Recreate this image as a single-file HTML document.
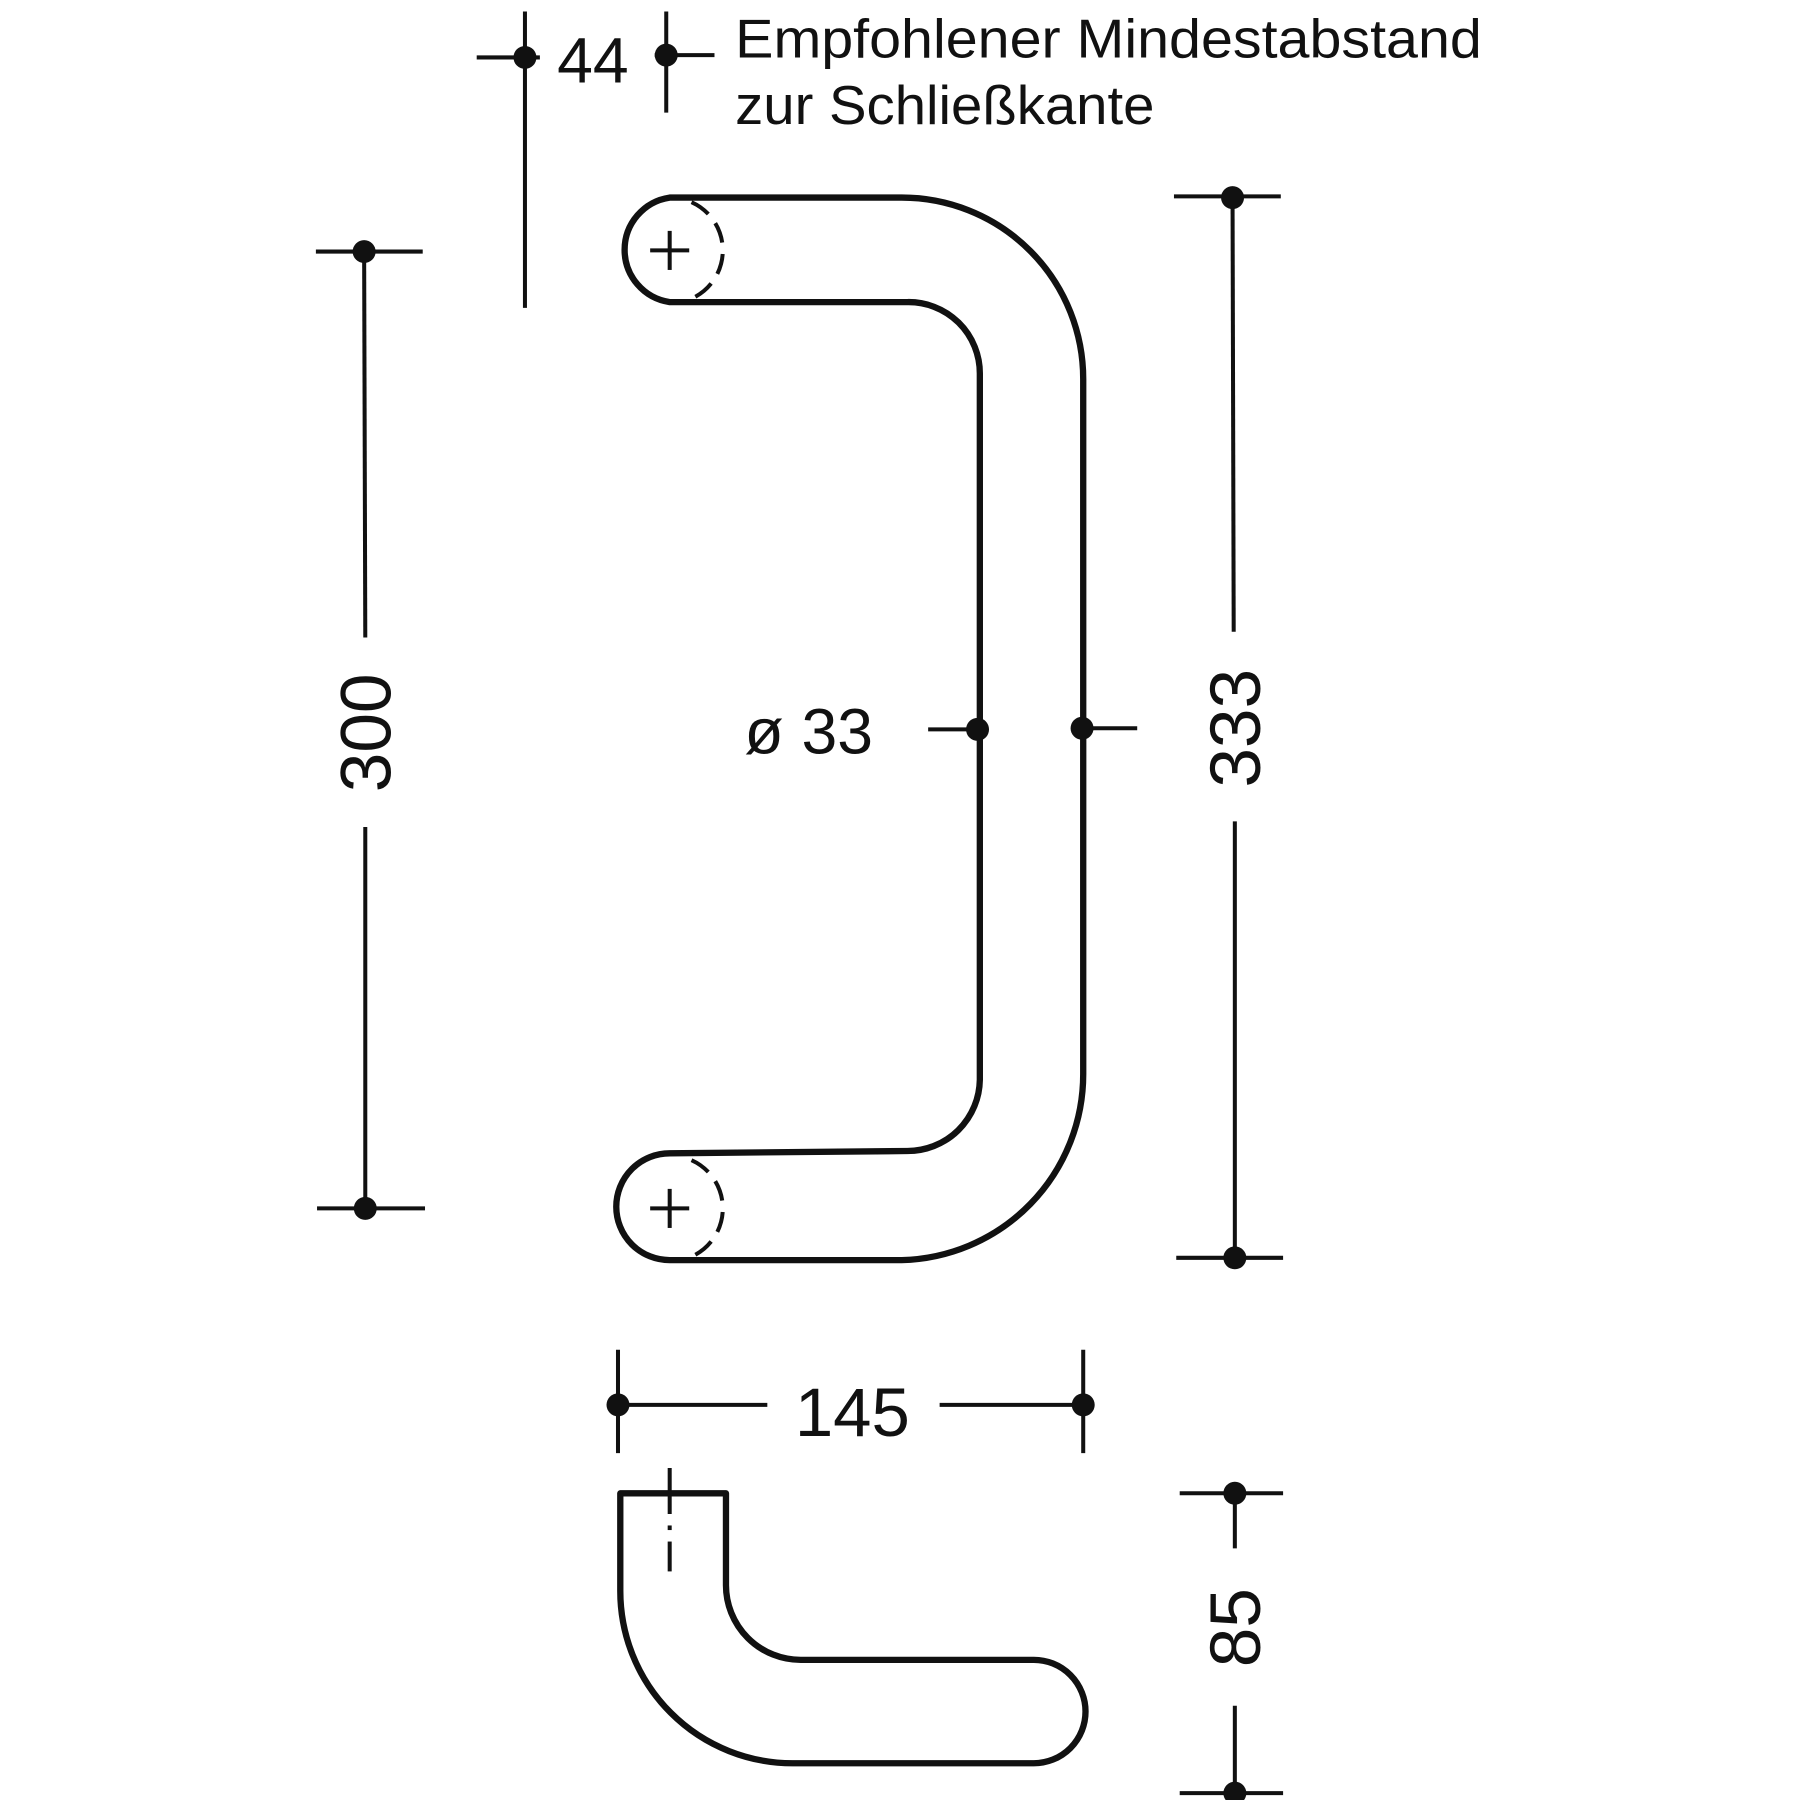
<!DOCTYPE html>
<html><head><style>html,body{margin:0;padding:0;background:#fff;}svg{display:block}</style></head>
<body>
<svg width="1800" height="1800" viewBox="0 0 1567 1567" xmlns="http://www.w3.org/2000/svg" font-family="Liberation Sans, sans-serif" fill="#111">
<g stroke="#111" stroke-width="3.5" fill="none">
<line x1="457" y1="10" x2="457" y2="268"/><line x1="415" y1="50" x2="470" y2="50"/>
<line x1="580" y1="10" x2="580" y2="98"/><line x1="570" y1="48" x2="622" y2="48"/>
<line x1="317" y1="219" x2="318" y2="555"/><line x1="318" y1="720" x2="318" y2="1052"/>
<line x1="275" y1="219" x2="368" y2="219"/><line x1="276" y1="1052" x2="370" y2="1052"/>
<line x1="1073" y1="172" x2="1074" y2="550"/><line x1="1075" y1="715" x2="1075" y2="1095"/>
<line x1="1022" y1="171" x2="1115" y2="171"/><line x1="1024" y1="1095" x2="1117" y2="1095"/>
<line x1="808" y1="635" x2="853" y2="635"/><line x1="942" y1="634" x2="990" y2="634"/>
<line x1="538" y1="1175" x2="538" y2="1265"/><line x1="943" y1="1175" x2="943" y2="1265"/>
<line x1="538" y1="1223" x2="668" y2="1223"/><line x1="818" y1="1223" x2="943" y2="1223"/>
<line x1="1075" y1="1300" x2="1075" y2="1348"/><line x1="1075" y1="1485" x2="1075" y2="1561"/>
<line x1="1027" y1="1300" x2="1117" y2="1300"/><line x1="1027" y1="1561" x2="1117" y2="1561"/>
<line x1="566" y1="218" x2="600" y2="218"/><line x1="583" y1="201" x2="583" y2="235"/>
<line x1="566" y1="1052" x2="600" y2="1052"/><line x1="583" y1="1035" x2="583" y2="1069"/>
<line x1="583" y1="1278" x2="583" y2="1318" /><line x1="583" y1="1328" x2="583" y2="1332"/><line x1="583" y1="1342" x2="583" y2="1368"/>
</g>
<g stroke="#111" stroke-width="5.5" fill="none" stroke-linejoin="round">
<path d="M583 172 L785 172 A158 158 0 0 1 943 330 L943 935 A162 162 0 0 1 785 1097 L583 1097 A46 46 0 0 1 583 1004 L790 1002 A63 63 0 0 0 853 940 L853 325 A62 62 0 0 0 790 263 L583 263 A46 46 0 0 1 583 172 Z"/>
<path d="M540 1300 L632 1300 L632 1380 A65 65 0 0 0 697 1445 L900 1445 A45 45 0 0 1 900 1535 L690 1535 A150 150 0 0 1 540 1385 Z"/>
</g>
<g stroke="#111" stroke-width="3.5" fill="none" stroke-dasharray="18 10">
<path d="M602 176 A46 46 0 0 1 602 260"/>
<path d="M602 1010 A46 46 0 0 1 602 1094"/>
</g>
<g>
<circle cx="457" cy="50" r="10"/><circle cx="580" cy="48" r="10"/>
<circle cx="317" cy="219" r="10"/><circle cx="318" cy="1052" r="10"/>
<circle cx="1073" cy="172" r="10"/><circle cx="1075" cy="1095" r="10"/>
<circle cx="851" cy="635" r="10"/><circle cx="942" cy="634" r="10"/>
<circle cx="538" cy="1223" r="10"/><circle cx="943" cy="1223" r="10"/>
<circle cx="1075" cy="1300" r="10"/><circle cx="1075" cy="1561" r="10"/>
</g>
<text x="485" y="72" font-size="56">44</text>
<text x="640" y="50" font-size="48" textLength="650" lengthAdjust="spacingAndGlyphs">Empfohlener Mindestabstand</text>
<text x="640" y="108" font-size="48" textLength="365" lengthAdjust="spacingAndGlyphs">zur Schließkante</text>
<text x="648" y="656" font-size="56">ø 33</text>
<text x="742" y="1250" font-size="60" text-anchor="middle">145</text>
<text transform="translate(340 638) rotate(-90)" font-size="62" text-anchor="middle">300</text>
<text transform="translate(1097 634) rotate(-90)" font-size="62" text-anchor="middle">333</text>
<text transform="translate(1097 1417) rotate(-90)" font-size="62" text-anchor="middle">85</text>
</svg>
</body></html>
